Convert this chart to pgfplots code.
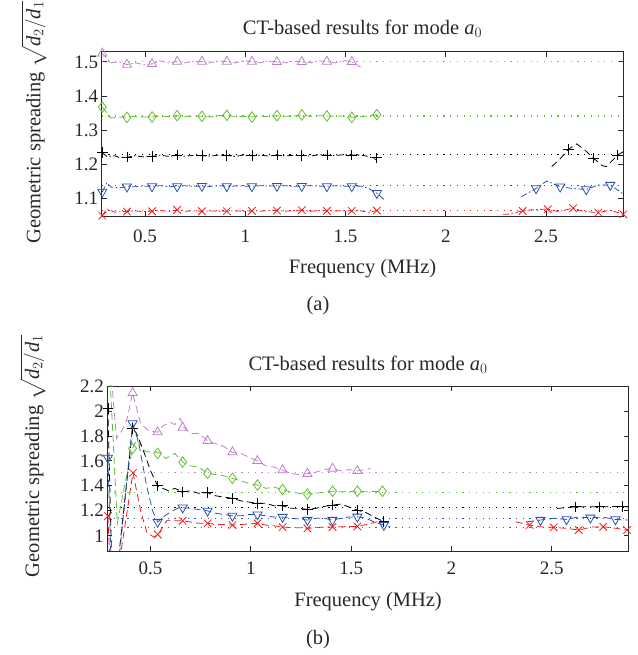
\documentclass[border=0pt]{standalone}
\usepackage{amsmath}
\usepackage{fontspec}
\setmainfont{Liberation Serif}
\usepackage{pgfplots}
\pgfplotsset{compat=1.18}
\definecolor{cpur}{RGB}{190,130,200}
\definecolor{cgrn}{RGB}{100,190,50}
\definecolor{cblu}{RGB}{45,80,175}
\definecolor{cred}{RGB}{240,30,30}
\definecolor{ctxt}{RGB}{40,40,40}
\pgfplotsset{
  base/.style={
    scale only axis, width=521.6bp,
    xmin=0.284, xmax=2.885,
    xtick={0.5,1,1.5,2,2.5},
    tick align=inside, major tick length=5bp,
    axis line style={ctxt, line width=0.9bp},
    every tick/.style={ctxt, line width=0.8bp},
    /pgf/number format/assume math mode=true,
    tick label style={font=\rmfamily\fontsize{19bp}{22bp}\selectfont, text=ctxt},
    label style={font=\rmfamily\fontsize{20.5bp}{24bp}\selectfont, text=ctxt},
    title style={font=\rmfamily\fontsize{20.5bp}{24bp}\selectfont, text=ctxt, at={(axis description cs:0.5,1)}, anchor=base},
    xlabel={Frequency (MHz)},
    ylabel={Geometric spreading $\sqrt{\textit{d}_2/\textit{d}_1}$},
    title={CT-based results for mode $\textit{a}_0$},
    xticklabel style={anchor=base},
    every axis plot/.append style={line width=0.8bp},
  },
  dda/.style={dash pattern=on 6bp off 2.5bp on 1.5bp off 2.5bp},
  dsh/.style={dash pattern=on 7bp off 4bp},
  dot/.style={line width=1.1bp, dash pattern=on 1.2bp off 5.5bp},
  mk/.style={only marks, mark size=5.3bp, mark options={solid, line width=0.8bp}},
}
\begin{document}
\begin{tikzpicture}
\path[use as bounding box] (0,0) rectangle (638bp,655bp);
% ---------------- panel (a)
\begin{axis}[base, at={(101.7bp,439bp)}, anchor=south west, height=164.3bp,
  ymin=1.047, ymax=1.53, ytick={1.1,1.2,1.3,1.4,1.5},
  title style={yshift=11.7bp},
  xticklabel style={yshift=-27bp},
  xlabel style={at={(axis description cs:0.5,0)}, anchor=base, yshift=-58bp},
  ylabel style={at={(axis description cs:-0.1300,0.569)}, anchor=center}]
% reference lines
\addplot[cpur, dot] coordinates {(0.284,1.5) (2.885,1.5)};
\addplot[cgrn, dot] coordinates {(0.284,1.341) (2.885,1.341)};
\addplot[black, dot] coordinates {(0.284,1.227) (2.885,1.227)};
\addplot[cblu, dot] coordinates {(0.284,1.136) (2.885,1.136)};
\addplot[cred, dot] coordinates {(0.284,1.064) (2.885,1.064)};
% purple
\addplot[cpur, dda] coordinates {(0.287,1.525)(0.33,1.498)(0.37,1.500)(0.41,1.492)(0.45,1.498)(0.49,1.492)(0.535,1.494)(0.575,1.503)(0.62,1.497)(0.66,1.501)(0.70,1.497)(0.74,1.502)(0.784,1.501)(0.825,1.497)(0.865,1.503)(0.908,1.501)(0.95,1.497)(0.99,1.503)(1.033,1.501)(1.075,1.497)(1.115,1.503)(1.158,1.500)(1.20,1.497)(1.24,1.503)(1.282,1.500)(1.325,1.497)(1.365,1.503)(1.407,1.501)(1.45,1.497)(1.49,1.504)(1.531,1.500)(1.586,1.481)};
\addplot[cpur, mk, mark=triangle] coordinates {(0.287,1.525)(0.41,1.492)(0.535,1.494)(0.66,1.501)(0.784,1.501)(0.908,1.501)(1.033,1.501)(1.158,1.500)(1.282,1.500)(1.407,1.501)(1.531,1.500)};
% green
\addplot[cgrn, dsh] coordinates {(0.287,1.367)(0.33,1.335)(0.37,1.338)(0.41,1.337)(0.45,1.340)(0.49,1.338)(0.535,1.338)(0.575,1.341)(0.62,1.339)(0.66,1.342)(0.70,1.339)(0.74,1.341)(0.784,1.340)(0.825,1.338)(0.865,1.342)(0.908,1.343)(0.95,1.339)(0.99,1.340)(1.033,1.338)(1.075,1.341)(1.115,1.339)(1.158,1.342)(1.20,1.340)(1.24,1.341)(1.282,1.344)(1.325,1.340)(1.365,1.342)(1.407,1.341)(1.45,1.340)(1.49,1.341)(1.531,1.337)(1.575,1.339)(1.615,1.341)(1.656,1.345)};
\addplot[cgrn, mk, mark=diamond] coordinates {(0.287,1.367)(0.41,1.337)(0.535,1.338)(0.66,1.342)(0.784,1.340)(0.908,1.343)(1.033,1.338)(1.158,1.342)(1.282,1.344)(1.407,1.341)(1.531,1.337)(1.656,1.345)};
% black
\addplot[black, dda] coordinates {(0.287,1.233)(0.31,1.222)(0.35,1.224)(0.37,1.219)(0.41,1.220)(0.45,1.224)(0.49,1.221)(0.535,1.222)(0.575,1.226)(0.62,1.222)(0.66,1.226)(0.70,1.223)(0.74,1.225)(0.784,1.224)(0.825,1.223)(0.865,1.226)(0.908,1.225)(0.95,1.222)(0.99,1.226)(1.033,1.224)(1.075,1.226)(1.115,1.223)(1.158,1.226)(1.20,1.224)(1.24,1.225)(1.282,1.225)(1.325,1.223)(1.365,1.227)(1.407,1.226)(1.45,1.225)(1.49,1.227)(1.531,1.226)(1.575,1.226)(1.615,1.222)(1.656,1.212)};
\addplot[black, dsh] coordinates {(2.528,1.192)(2.57,1.215)(2.611,1.243)(2.653,1.259)(2.695,1.240)(2.736,1.217)(2.78,1.195)(2.80,1.192)(2.857,1.226)(2.885,1.236)};
\addplot[black, mk, mark=+] coordinates {(0.287,1.233)(0.41,1.220)(0.535,1.222)(0.66,1.226)(0.784,1.224)(0.908,1.225)(1.033,1.224)(1.158,1.226)(1.282,1.225)(1.407,1.226)(1.531,1.226)(1.656,1.218)(2.611,1.243)(2.736,1.217)(2.857,1.226)};
% blue
\addplot[cblu, dda] coordinates {(0.287,1.118)(0.31,1.145)(0.33,1.132)(0.37,1.130)(0.41,1.133)(0.45,1.133)(0.49,1.135)(0.535,1.134)(0.575,1.136)(0.62,1.133)(0.66,1.134)(0.70,1.136)(0.74,1.134)(0.784,1.135)(0.825,1.134)(0.865,1.136)(0.908,1.134)(0.95,1.135)(0.99,1.135)(1.033,1.134)(1.075,1.136)(1.115,1.135)(1.158,1.135)(1.20,1.136)(1.24,1.134)(1.282,1.135)(1.325,1.136)(1.365,1.135)(1.407,1.134)(1.45,1.136)(1.49,1.135)(1.531,1.134)(1.575,1.135)(1.615,1.128)(1.656,1.114)(1.695,1.094)};
\addplot[cblu, dda] coordinates {(2.378,1.104)(2.45,1.128)(2.503,1.150)(2.57,1.133)(2.63,1.128)(2.70,1.125)(2.76,1.138)(2.82,1.138)(2.885,1.112)};
\addplot[cblu, mk, mark=triangle, mark options={rotate=180}] coordinates {(0.287,1.118)(0.41,1.133)(0.535,1.134)(0.66,1.134)(0.784,1.135)(0.908,1.134)(1.033,1.134)(1.158,1.135)(1.282,1.135)(1.407,1.134)(1.531,1.134)(1.656,1.114)(2.45,1.128)(2.57,1.133)(2.70,1.125)(2.82,1.138)};
% red
\addplot[cred, dda] coordinates {(0.287,1.048)(0.31,1.068)(0.35,1.058)(0.37,1.061)(0.41,1.060)(0.45,1.062)(0.49,1.060)(0.535,1.061)(0.575,1.063)(0.62,1.061)(0.66,1.065)(0.70,1.061)(0.74,1.062)(0.784,1.061)(0.825,1.062)(0.865,1.061)(0.908,1.061)(0.95,1.062)(0.99,1.061)(1.033,1.062)(1.075,1.061)(1.115,1.063)(1.158,1.063)(1.20,1.061)(1.24,1.063)(1.282,1.064)(1.325,1.061)(1.365,1.063)(1.407,1.062)(1.45,1.062)(1.49,1.063)(1.531,1.062)(1.575,1.062)(1.615,1.058)(1.656,1.063)(1.675,1.065)};
\addplot[cred, dda] coordinates {(2.286,1.052)(2.31,1.052)(2.383,1.062)(2.44,1.066)(2.508,1.067)(2.56,1.060)(2.635,1.070)(2.69,1.060)(2.76,1.057)(2.82,1.064)(2.885,1.052)};
\addplot[cred, mk, mark=x] coordinates {(0.287,1.048)(0.41,1.060)(0.535,1.061)(0.66,1.065)(0.784,1.061)(0.908,1.061)(1.033,1.062)(1.158,1.063)(1.282,1.064)(1.407,1.062)(1.531,1.062)(1.656,1.063)(2.383,1.062)(2.508,1.067)(2.635,1.070)(2.76,1.057)(2.885,1.052)};
\end{axis}
\node[anchor=base, text=ctxt, font=\rmfamily\fontsize{20.5bp}{24bp}\selectfont] at (318bp,344bp) {(a)};
% ---------------- panel (b)
\begin{axis}[base, at={(107.3bp,104bp)}, anchor=south west, height=165bp,
  ymin=0.878, ymax=2.2, ytick={1,1.2,1.4,1.6,1.8,2,2.2},
  title style={yshift=9.3bp},
  xticklabel style={yshift=-24bp},
  xlabel style={at={(axis description cs:0.5,0)}, anchor=base, yshift=-56bp},
  ylabel style={at={(axis description cs:-0.1430,0.576)}, anchor=center}]
\addplot[cpur, dot] coordinates {(0.284,1.506) (2.885,1.506)};
\addplot[cgrn, dot] coordinates {(0.284,1.346) (2.885,1.346)};
\addplot[black, dot] coordinates {(0.284,1.23) (2.885,1.23)};
\addplot[cblu, dot] coordinates {(0.284,1.138) (2.885,1.138)};
\addplot[cred, dot] coordinates {(0.284,1.067) (2.885,1.067)};
% purple
\addplot[cpur, dsh] coordinates {(0.287,2.6)(0.33,1.78)(0.36,1.85)(0.385,1.95)(0.41,2.145)(0.45,1.90)(0.49,1.84)(0.535,1.83)(0.56,1.88)(0.60,1.91)(0.62,1.89)(0.648,1.94)(0.665,1.87)(0.70,1.82)(0.74,1.82)(0.784,1.76)(0.82,1.74)(0.86,1.72)(0.908,1.67)(0.95,1.66)(0.99,1.63)(1.033,1.60)(1.075,1.56)(1.115,1.55)(1.158,1.525)(1.20,1.50)(1.24,1.49)(1.282,1.497)(1.325,1.51)(1.365,1.53)(1.407,1.539)(1.45,1.52)(1.49,1.53)(1.531,1.52)(1.597,1.539)};
\addplot[cpur, mk, mark=triangle] coordinates {(0.41,2.145)(0.535,1.83)(0.66,1.867)(0.784,1.76)(0.908,1.67)(1.033,1.60)(1.158,1.526)(1.282,1.497)(1.407,1.539)(1.531,1.52)};
% green
\addplot[cgrn, dsh] coordinates {(0.287,2.6)(0.334,1.10)(0.37,1.40)(0.41,1.70)(0.43,1.77)(0.47,1.68)(0.50,1.67)(0.54,1.67)(0.575,1.62)(0.60,1.64)(0.62,1.66)(0.66,1.59)(0.70,1.56)(0.74,1.55)(0.784,1.50)(0.825,1.49)(0.865,1.48)(0.908,1.46)(0.95,1.44)(0.99,1.42)(1.033,1.406)(1.075,1.38)(1.115,1.39)(1.158,1.37)(1.20,1.35)(1.24,1.34)(1.282,1.334)(1.325,1.34)(1.365,1.35)(1.407,1.357)(1.45,1.352)(1.49,1.355)(1.531,1.357)(1.575,1.352)(1.615,1.355)(1.656,1.357)};
\addplot[cgrn, mk, mark=diamond] coordinates {(0.41,1.70)(0.535,1.66)(0.66,1.59)(0.784,1.50)(0.908,1.46)(1.033,1.406)(1.158,1.37)(1.282,1.334)(1.407,1.357)(1.531,1.357)(1.656,1.357)};
% black
\addplot[black, dsh] coordinates {(0.287,2.02)(0.31,0.5)(0.342,0.85)(0.41,1.86)(0.43,1.82)(0.46,1.70)(0.50,1.52)(0.535,1.40)(0.56,1.38)(0.59,1.36)(0.62,1.38)(0.66,1.352)(0.70,1.36)(0.74,1.34)(0.784,1.345)(0.825,1.32)(0.865,1.31)(0.908,1.30)(0.95,1.28)(0.99,1.27)(1.033,1.26)(1.075,1.26)(1.115,1.24)(1.158,1.24)(1.20,1.22)(1.24,1.22)(1.282,1.211)(1.325,1.22)(1.365,1.235)(1.407,1.246)(1.45,1.254)(1.49,1.23)(1.531,1.206)(1.575,1.185)(1.615,1.15)(1.663,1.112)};
\addplot[black, dsh] coordinates {(2.527,1.219)(2.619,1.232)(2.68,1.232)(2.74,1.232)(2.80,1.234)(2.852,1.236)(2.885,1.23)};
\addplot[black, mk, mark=+] coordinates {(0.287,2.02)(0.41,1.86)(0.535,1.40)(0.66,1.352)(0.784,1.345)(0.908,1.30)(1.033,1.26)(1.158,1.24)(1.282,1.211)(1.407,1.246)(1.531,1.206)(1.663,1.112)(2.619,1.232)(2.74,1.232)(2.852,1.236)};
% blue
\addplot[cblu, dsh] coordinates {(0.287,1.624)(0.31,0.4)(0.345,0.85)(0.41,1.90)(0.44,1.75)(0.48,1.40)(0.51,1.20)(0.535,1.11)(0.57,1.16)(0.61,1.20)(0.648,1.23)(0.66,1.225)(0.70,1.22)(0.74,1.21)(0.784,1.20)(0.825,1.18)(0.865,1.17)(0.908,1.16)(0.95,1.16)(0.99,1.17)(1.033,1.17)(1.075,1.16)(1.115,1.15)(1.158,1.15)(1.20,1.14)(1.24,1.135)(1.282,1.126)(1.325,1.14)(1.365,1.14)(1.407,1.126)(1.45,1.14)(1.49,1.15)(1.531,1.152)(1.575,1.14)(1.615,1.11)(1.663,1.086)(1.696,1.07)};
\addplot[cblu, dsh] coordinates {(2.378,1.112)(2.444,1.126)(2.51,1.14)(2.574,1.131)(2.63,1.15)(2.693,1.144)(2.75,1.15)(2.818,1.131)(2.885,1.126)};
\addplot[cblu, mk, mark=triangle, mark options={rotate=180}] coordinates {(0.287,1.624)(0.41,1.90)(0.535,1.11)(0.66,1.225)(0.784,1.20)(0.908,1.16)(1.033,1.17)(1.158,1.15)(1.282,1.126)(1.407,1.126)(1.531,1.152)(1.663,1.086)(2.444,1.126)(2.574,1.131)(2.693,1.144)(2.818,1.131)};
% red
\addplot[cred, dsh] coordinates {(0.287,1.158)(0.305,0.5)(0.35,0.85)(0.412,1.504)(0.45,1.20)(0.483,1.02)(0.517,0.99)(0.536,1.01)(0.583,1.125)(0.62,1.12)(0.66,1.12)(0.70,1.11)(0.74,1.10)(0.784,1.10)(0.825,1.09)(0.865,1.09)(0.908,1.085)(0.95,1.09)(0.99,1.095)(1.033,1.10)(1.075,1.085)(1.115,1.08)(1.158,1.07)(1.20,1.065)(1.24,1.065)(1.282,1.059)(1.325,1.065)(1.365,1.07)(1.407,1.07)(1.45,1.072)(1.49,1.075)(1.531,1.075)(1.575,1.09)(1.63,1.112)};
\addplot[cred, dsh] coordinates {(2.32,1.112)(2.39,1.086)(2.45,1.07)(2.51,1.067)(2.57,1.06)(2.635,1.046)(2.70,1.07)(2.757,1.072)(2.82,1.06)(2.876,1.046)(2.885,1.05)};
\addplot[cred, mk, mark=x] coordinates {(0.287,1.158)(0.412,1.504)(0.536,1.01)(0.66,1.12)(0.784,1.10)(0.908,1.085)(1.033,1.10)(1.158,1.07)(1.282,1.059)(1.407,1.07)(1.531,1.075)(2.39,1.086)(2.51,1.067)(2.635,1.046)(2.757,1.072)(2.876,1.046)};
\end{axis}
\node[anchor=base, text=ctxt, font=\rmfamily\fontsize{20.5bp}{24bp}\selectfont] at (318bp,11bp) {(b)};
\end{tikzpicture}
\end{document}
